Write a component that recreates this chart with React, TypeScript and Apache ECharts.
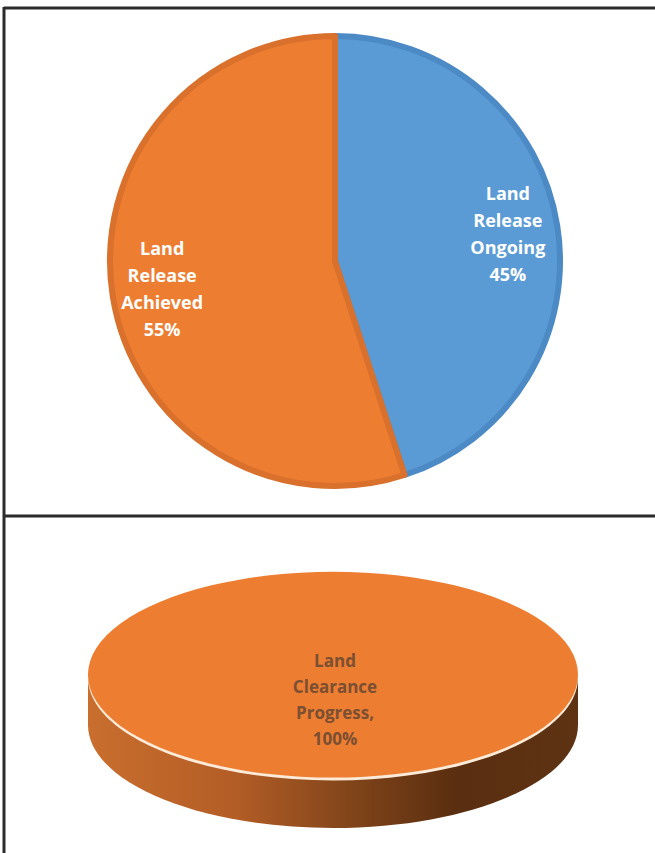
import React, { useEffect, useRef } from "react";
import * as echarts from "echarts";

// ---- data ----
const pieCategories = ["Land Release Ongoing", "Land Release Achieved"];
const pieValues = [45, 55];
const clearanceCategories = ["Land Clearance Progress"];
const clearanceValues = [100];

// ---- styles ----
const pieColors = ["#5B9BD5", "#ED7D31"];
const pieBorders = ["#4C8AC6", "#D9702B"];
const FONT = "'Open Sans', 'DejaVu Sans', sans-serif";

export default function App() {
  const ref = useRef<HTMLDivElement>(null);

  useEffect(() => {
    if (!ref.current) return;
    const chart = echarts.init(ref.current, null, { renderer: "svg" });

    const pieData = pieCategories.map((name, i) => ({
      name,
      value: pieValues[i],
      itemStyle: { color: pieColors[i], borderColor: pieBorders[i], borderWidth: 6 },
    }));

    const total = clearanceValues.reduce((a, b) => a + b, 0);
    const discCx = 333;
    const discCy = 675;
    const discRx = 245;
    const discRy = 103;
    const thick = 50;

    const sideGradient = () =>
      new echarts.graphic.LinearGradient(0, 0, 1, 0, [
        { offset: 0, color: "#C96E2E" },
        { offset: 0.3, color: "#B35D26" },
        { offset: 0.55, color: "#7E4319" },
        { offset: 0.75, color: "#5A2E10" },
        { offset: 1, color: "#5E3313" },
      ]);

    const option: any = {
      animation: false,
      backgroundColor: "#ffffff",
      graphic: [
        { type: "line", shape: { x1: 4, y1: 8, x2: 655, y2: 8 }, style: { stroke: "#2b2b2b", lineWidth: 3 } },
        { type: "line", shape: { x1: 4, y1: 7, x2: 4, y2: 853 }, style: { stroke: "#2b2b2b", lineWidth: 3 } },
        { type: "line", shape: { x1: 4, y1: 516, x2: 655, y2: 516 }, style: { stroke: "#2b2b2b", lineWidth: 3 } },
      ],
      series: [
        {
          type: "pie",
          center: [335, 261],
          radius: [0, 225],
          startAngle: 90,
          clockwise: true,
          silent: true,
          label: { show: false },
          labelLine: { show: false },
          data: pieData,
        },
        {
          type: "pie",
          center: [335, 261],
          radius: [0, 344],
          startAngle: 90,
          clockwise: true,
          silent: true,
          z: 5,
          itemStyle: { color: "transparent", borderWidth: 0 },
          label: {
            show: true,
            position: "inside",
            color: "#ffffff",
            fontFamily: FONT,
            fontWeight: "bold",
            fontSize: 18,
            lineHeight: 27,
            formatter: (p: any) => p.name.split(" ").join("\n") + "\n" + p.value + "%",
          },
          labelLine: { show: false },
          data: pieCategories.map((name, i) => ({ name, value: pieValues[i] })),
        },
        {
          type: "custom",
          coordinateSystem: "none",
          silent: true,
          data: clearanceCategories.map((name, i) => ({ name, value: clearanceValues[i] })),
          renderItem: (params: any, api: any) => {
            const v = api.value(0);
            const frac = v / total;
            const start = -Math.PI / 2;
            const end = start + frac * Math.PI * 2;
            const name = clearanceCategories[params.dataIndex];
            const pct = Math.round(frac * 100);
            return {
              type: "group",
              children: [
                {
                  type: "ellipse",
                  shape: { cx: discCx, cy: discCy + thick, rx: discRx, ry: discRy },
                  style: { fill: sideGradient() },
                },
                {
                  type: "rect",
                  shape: { x: discCx - discRx, y: discCy, width: discRx * 2, height: thick },
                  style: { fill: sideGradient() },
                },
                {
                  type: "ellipse",
                  shape: { cx: discCx, cy: discCy + 2.5, rx: discRx, ry: discRy },
                  style: { fill: "#FCEBD8" },
                },
                {
                  type: "group",
                  originX: discCx,
                  originY: discCy,
                  scaleY: discRy / discRx,
                  children: [
                    {
                      type: "sector",
                      shape: { cx: discCx, cy: discCy, r: discRx, r0: 0, startAngle: start, endAngle: end, clockwise: true },
                      style: { fill: "#ED7D31" },
                    },
                  ],
                },
                {
                  type: "text",
                  x: discCx + 2,
                  y: discCy + 24,
                  style: {
                    text: name.split(" ").join("\n") + ",\n" + pct + "%",
                    align: "center",
                    verticalAlign: "middle",
                    fill: "#7A4F32",
                    fontFamily: FONT,
                    fontWeight: "bold",
                    fontSize: 17,
                    lineHeight: 26,
                  },
                },
              ],
            };
          },
        },
      ],
    };

    chart.setOption(option);
    return () => chart.dispose();
  }, []);

  return (
    <div
      ref={ref}
      style={{ position: "absolute", left: 0, top: 0, width: 655, height: 853, background: "#fff" }}
    />
  );
}
